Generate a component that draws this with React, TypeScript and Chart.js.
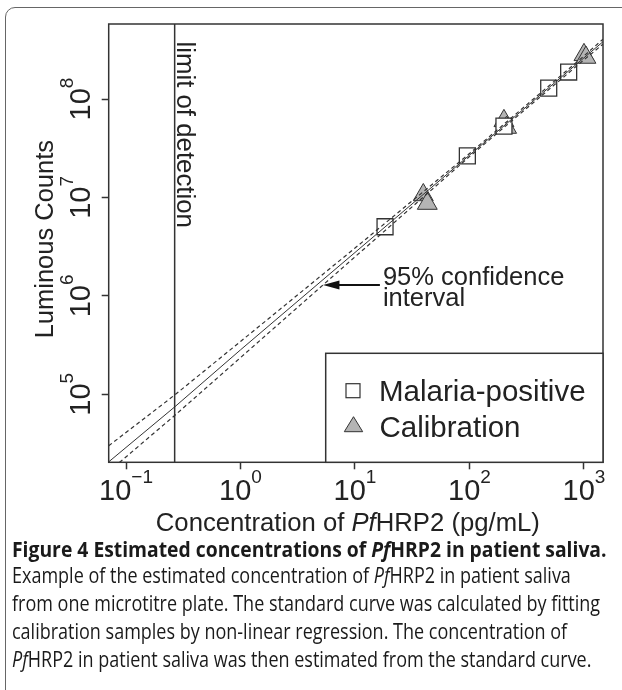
import React, { useEffect, useRef } from 'react';
import { Chart, registerables } from 'chart.js';

Chart.register(...registerables);

// ---------- data ----------
const xTickValues = [0.1, 1, 10, 100, 1000];
const xTickExponents = ['\u22121', '0', '1', '2', '3'];
const yTickValues = [1e5, 1e6, 1e7, 1e8];
const yTickExponents = ['5', '6', '7', '8'];

const xRange = [0.0706, 1466];
const yRange = [2.04e4, 5.78e8];

const malariaX = [18.3, 95.8, 200, 492, 735];
const malariaY = [5.04e6, 2.64e7, 5.3e7, 1.29e8, 1.88e8];

const calibrationX = [39.5, 42.8, 200, 211, 1000, 1040];
const calibrationY = [1.06e7, 8.67e6, 6.0e7, 5.13e7, 2.81e8, 2.64e8];

const curveX = [0.0706, 0.266, 1, 5.25, 10, 100, 1000, 1466];
const curveFit = [2.06e4, 7.45e4, 2.83e5, 1.46e6, 2.76e6, 2.69e7, 2.62e8, 3.82e8];
const curveUpper = [3.0e4, 9.84e4, 3.44e5, 1.66e6, 3.06e6, 2.79e7, 2.74e8, 4.05e8];
const curveLower = [1.64e4, 6.1e4, 2.36e5, 1.29e6, 2.49e6, 2.6e7, 2.5e8, 3.61e8];

const limitOfDetection = 0.266;
const arrowTip = { x: 5.25, y: 1.29e6 };
const arrowTailX = 16.5;

const legendLabels = ['Malaria-positive', 'Calibration'];
const xTitleParts = [
  { text: 'Concentration of ', italic: false },
  { text: 'Pf', italic: true },
  { text: 'HRP2 (pg/mL)', italic: false },
];
const yTitle = 'Luminous Counts';
const limitLabel = 'limit of detection';
const ciLabel = ['95% confidence', 'interval'];

// ---------- styling ----------
const FONT = '"Liberation Sans", Arial, Helvetica, sans-serif';
const INK = '#222';
const LINE = '#333';
const CAPTION_FONT = '"Open Sans", "Noto Sans", sans-serif';

const toPoints = (xs: number[], ys: number[]) => xs.map((x, i) => ({ x, y: ys[i] }));

function drawPower(
  ctx: CanvasRenderingContext2D,
  cx: number,
  baseline: number,
  exp: string,
  baseSize: number,
  supSize: number,
  raise: number
) {
  ctx.font = `${baseSize}px ${FONT}`;
  const wb = ctx.measureText('10').width;
  ctx.font = `${supSize}px ${FONT}`;
  const ws = ctx.measureText(exp).width;
  const start = cx - (wb + ws) / 2;
  ctx.font = `${baseSize}px ${FONT}`;
  ctx.fillText('10', start, baseline);
  ctx.font = `${supSize}px ${FONT}`;
  ctx.fillText(exp, start + wb, baseline - raise);
}

const overlayPlugin = {
  id: 'overlay',
  afterDatasetsDraw(chart: any) {
    const { ctx, chartArea: a, scales } = chart;
    const xs = scales.x;
    const ys = scales.y;
    ctx.save();

    // plot frame
    ctx.strokeStyle = LINE;
    ctx.lineWidth = 1.5;
    ctx.strokeRect(a.left, a.top, a.right - a.left, a.bottom - a.top);

    // legend box
    const lx = a.right - 277.3;
    const ly = a.bottom - 109;
    ctx.fillStyle = '#fff';
    ctx.fillRect(lx, ly, a.right - lx, a.bottom - ly);
    ctx.strokeRect(lx, ly, a.right - lx, a.bottom - ly);
    // legend square
    ctx.lineWidth = 1.2;
    ctx.strokeStyle = LINE;
    ctx.strokeRect(lx + 27.3 - 7, ly + 37.4 - 7, 14, 14);
    // legend triangle
    ctx.beginPath();
    ctx.moveTo(lx + 27.8, ly + 63.4);
    ctx.lineTo(lx + 27.8 + 9.2, ly + 78.4);
    ctx.lineTo(lx + 27.8 - 9.2, ly + 78.4);
    ctx.closePath();
    ctx.fillStyle = '#b4b4b4';
    ctx.fill();
    ctx.lineWidth = 1;
    ctx.stroke();

    ctx.fillStyle = INK;
    ctx.textBaseline = 'alphabetic';
    ctx.textAlign = 'left';
    ctx.font = `29.5px ${FONT}`;
    ctx.fillText(legendLabels[0], lx + 53.3, ly + 47.7);
    ctx.fillText(legendLabels[1], lx + 53.8, ly + 84);

    // x tick labels
    xTickValues.forEach((v, i) => {
      drawPower(ctx, xs.getPixelForValue(v), a.bottom + 37.7, xTickExponents[i], 29, 19, 16.7);
    });
    // y tick labels (rotated)
    yTickValues.forEach((v, i) => {
      ctx.save();
      ctx.translate(a.left - 18.7, ys.getPixelForValue(v));
      ctx.rotate(-Math.PI / 2);
      drawPower(ctx, 0, 0, yTickExponents[i], 29, 19, 16.7);
      ctx.restore();
    });

    // x title
    const titleSize = 25.7;
    const widths = xTitleParts.map((p) => {
      ctx.font = `${p.italic ? 'italic ' : ''}${titleSize}px ${FONT}`;
      return ctx.measureText(p.text).width;
    });
    const total = widths.reduce((s, w) => s + w, 0);
    let tx = (a.left + a.right) / 2 - 8 - total / 2;
    xTitleParts.forEach((p, i) => {
      ctx.font = `${p.italic ? 'italic ' : ''}${titleSize}px ${FONT}`;
      ctx.fillText(p.text, tx, a.bottom + 68.7);
      tx += widths[i];
    });

    // y title
    ctx.save();
    ctx.translate(a.left - 55.7, (a.top + a.bottom) / 2 - 4);
    ctx.rotate(-Math.PI / 2);
    ctx.textAlign = 'center';
    ctx.font = `25.5px ${FONT}`;
    ctx.fillText(yTitle, 0, 0);
    ctx.restore();

    // limit of detection label
    ctx.save();
    ctx.translate(xs.getPixelForValue(limitOfDetection) + 2.5, a.top + 17.5);
    ctx.rotate(Math.PI / 2);
    ctx.font = `25.8px ${FONT}`;
    ctx.fillText(limitLabel, 0, 0);
    ctx.restore();

    // arrow + confidence label
    const ax = xs.getPixelForValue(arrowTip.x);
    const ay = ys.getPixelForValue(arrowTip.y);
    const tailX = xs.getPixelForValue(arrowTailX);
    ctx.strokeStyle = '#111';
    ctx.lineWidth = 2;
    ctx.beginPath();
    ctx.moveTo(tailX, ay);
    ctx.lineTo(ax + 12, ay);
    ctx.stroke();
    ctx.beginPath();
    ctx.moveTo(ax, ay);
    ctx.lineTo(ax + 16.5, ay - 4.5);
    ctx.lineTo(ax + 16.5, ay + 4.5);
    ctx.closePath();
    ctx.fillStyle = '#111';
    ctx.fill();

    ctx.fillStyle = INK;
    ctx.font = `25.5px ${FONT}`;
    ctx.fillText(ciLabel[0], tailX + 3, ay);
    ctx.fillText(ciLabel[1], tailX + 3, ay + 20.5);

    ctx.restore();
  },
};

export default function App() {
  const ref = useRef<HTMLCanvasElement>(null);

  useEffect(() => {
    const canvas = ref.current;
    if (!canvas) return;
    const chart = new Chart(canvas, {
      type: 'scatter',
      data: {
        datasets: [
          {
            label: 'fit',
            data: toPoints(curveX, curveFit),
            showLine: true,
            borderColor: LINE,
            borderWidth: 1,
            pointRadius: 0,
            order: 0,
          },
          {
            label: 'upper',
            data: toPoints(curveX, curveUpper),
            showLine: true,
            borderColor: LINE,
            borderWidth: 1.2,
            borderDash: [4, 3],
            pointRadius: 0,
            order: 0,
          },
          {
            label: 'lower',
            data: toPoints(curveX, curveLower),
            showLine: true,
            borderColor: LINE,
            borderWidth: 1.2,
            borderDash: [4, 3],
            pointRadius: 0,
            order: 0,
          },
          {
            label: 'limit',
            data: [
              { x: limitOfDetection, y: yRange[0] },
              { x: limitOfDetection, y: yRange[1] },
            ],
            showLine: true,
            borderColor: LINE,
            borderWidth: 1.5,
            pointRadius: 0,
            order: 0,
          },
          {
            label: legendLabels[0],
            data: toPoints(malariaX, malariaY),
            pointStyle: 'rect',
            pointRadius: 11.3,
            backgroundColor: '#fff',
            borderColor: LINE,
            borderWidth: 1.3,
            order: 1,
          },
          {
            label: legendLabels[1],
            data: toPoints(calibrationX, calibrationY),
            pointStyle: 'triangle',
            pointRadius: 11.5,
            backgroundColor: '#b4b4b4',
            borderColor: LINE,
            borderWidth: 1,
            order: 2,
          },
        ],
      } as any,
      options: {
        animation: false,
        responsive: false,
        events: [],
        layout: { padding: { left: 0, top: 24, right: 19, bottom: 0 } },
        plugins: { legend: { display: false }, tooltip: { enabled: false } },
        scales: {
          x: {
            type: 'logarithmic',
            min: xRange[0],
            max: xRange[1],
            ticks: { display: false },
            border: { display: false },
            grid: {
              drawOnChartArea: false,
              drawTicks: true,
              tickLength: 7,
              tickWidth: 1.5,
              tickColor: LINE,
            },
            afterBuildTicks: (s: any) => {
              s.ticks = xTickValues.map((value) => ({ value }));
            },
            afterFit: (s: any) => {
              s.height = 97.7;
            },
          },
          y: {
            type: 'logarithmic',
            min: yRange[0],
            max: yRange[1],
            ticks: { display: false },
            border: { display: false },
            grid: {
              drawOnChartArea: false,
              drawTicks: true,
              tickLength: 7,
              tickWidth: 1.5,
              tickColor: LINE,
            },
            afterBuildTicks: (s: any) => {
              s.ticks = yTickValues.map((value) => ({ value }));
            },
            afterFit: (s: any) => {
              s.width = 108.7;
            },
          },
        },
      } as any,
      plugins: [overlayPlugin],
    });
    return () => chart.destroy();
  }, []);

  const lineStyle: React.CSSProperties = {
    position: 'absolute',
    left: 12,
    whiteSpace: 'nowrap',
    fontFamily: CAPTION_FONT,
    fontSize: 21,
    lineHeight: '28px',
    color: '#1a1a1a',
    transform: 'scaleX(0.857)',
    transformOrigin: 'left center',
  };

  return (
    <div
      style={{
        position: 'absolute',
        left: 0,
        top: 0,
        width: 622,
        height: 690,
        overflow: 'hidden',
        background: '#fff',
      }}
    >
      <div
        style={{
          position: 'absolute',
          left: 5,
          top: 7,
          width: 700,
          height: 800,
          border: '1.5px solid #666',
          borderRadius: 10,
          boxSizing: 'border-box',
        }}
      />
      <canvas
        ref={ref}
        width={622}
        height={560}
        style={{ position: 'absolute', left: 0, top: 0, width: 622, height: 560 }}
      />
      <div style={{ ...lineStyle, top: 535, fontWeight: 700, transform: 'scaleX(0.92)' }}>
        Figure 4 Estimated concentrations of <i>Pf</i>HRP2 in patient saliva.
      </div>
      <div style={{ ...lineStyle, top: 561 }}>
        Example of the estimated concentration of <i>Pf</i>HRP2 in patient saliva
      </div>
      <div style={{ ...lineStyle, top: 589 }}>
        from one microtitre plate. The standard curve was calculated by fitting
      </div>
      <div style={{ ...lineStyle, top: 617 }}>
        calibration samples by non-linear regression. The concentration of
      </div>
      <div style={{ ...lineStyle, top: 645 }}>
        <i>Pf</i>HRP2 in patient saliva was then estimated from the standard curve.
      </div>
    </div>
  );
}
